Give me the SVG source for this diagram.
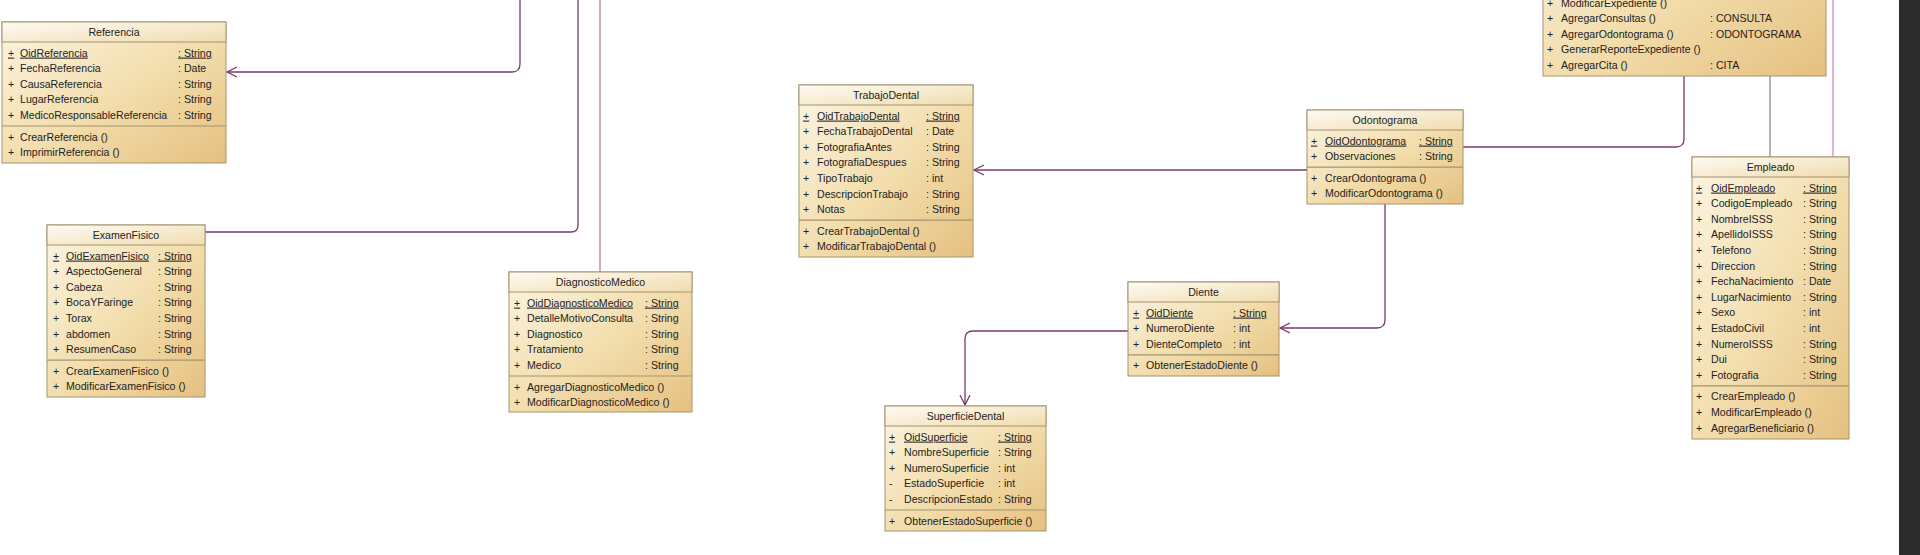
<svg xmlns="http://www.w3.org/2000/svg" width="1920" height="555" viewBox="0 0 1920 555">
<defs>
<linearGradient id="body" x1="0" y1="0" x2="1" y2="1">
<stop offset="0" stop-color="#fcf5e3"/>
<stop offset="0.55" stop-color="#f2dcaa"/>
<stop offset="1" stop-color="#e5c080"/>
</linearGradient>
<linearGradient id="head" x1="0" y1="0" x2="1" y2="1">
<stop offset="0" stop-color="#fefbf4"/>
<stop offset="1" stop-color="#f0dcae"/>
</linearGradient>
<marker id="open" markerUnits="userSpaceOnUse" markerWidth="12" markerHeight="12" refX="10" refY="5" orient="auto" viewBox="0 0 12 10">
<path d="M0,0 L10,5 L0,10" fill="none" stroke="#7a3a6c" stroke-width="1.3"/>
</marker>
<style>
.box{fill:url(#body);stroke:#a4946e;stroke-width:1}
.hdr{fill:url(#head);stroke:#a4946e;stroke-width:1}
.sep{stroke:#a4946e;stroke-width:1.2}
text{font-family:"Liberation Sans",Arial,sans-serif;font-size:10.6px;fill:#222}
.t{text-anchor:middle}
.u{text-decoration:underline}
.c{fill:none;stroke:#7a3a6c;stroke-width:1.3}
.cl{fill:none;stroke:#b693ad;stroke-width:1.5}
.cg{fill:none;stroke:#8e8a8c;stroke-width:1.3}
.cp{fill:none;stroke:#d69ccc;stroke-width:1.5}
</style>
</defs>
<rect width="1920" height="555" fill="#ffffff"/>
<rect x="1899" y="0" width="21" height="555" fill="#2b2b2b"/>

<g id="connectors">
<path class="c" d="M520,0 V64 Q520,72 512,72 H227" marker-end="url(#open)"/>
<path class="c" d="M578,0 V225 Q578,232 571,232 H205"/>
<path class="cl" d="M600,0 V272"/>
<path class="c" d="M1307,170 H974" marker-end="url(#open)"/>
<path class="c" d="M1463,147 H1676 Q1684,147 1684,139 V76"/>
<path class="c" d="M1385,204 V320 Q1385,328 1377,328 H1280" marker-end="url(#open)"/>
<path class="c" d="M1128,331 H973 Q965,331 965,339 V405" marker-end="url(#open)"/>
<path class="cg" d="M1770,76 V157"/>
<path class="cp" d="M1833,0 V157"/>
</g>

<g id="Referencia">
<rect class="box" x="2" y="22" width="224" height="141"/>
<rect class="hdr" x="2" y="22" width="224" height="20"/>
<line class="sep" x1="2" y1="126" x2="226" y2="126"/>
<text class="t" x="114" y="35.8">Referencia</text>
<text class="u" x="8" y="56.6">+</text><text class="u" x="20" y="56.6">OidReferencia</text><text class="u" x="178" y="56.6">: String</text>
<text x="8" y="72.2">+</text><text x="20" y="72.2">FechaReferencia</text><text x="178" y="72.2">: Date</text>
<text x="8" y="87.8">+</text><text x="20" y="87.8">CausaReferencia</text><text x="178" y="87.8">: String</text>
<text x="8" y="103.4">+</text><text x="20" y="103.4">LugarReferencia</text><text x="178" y="103.4">: String</text>
<text x="8" y="119">+</text><text x="20" y="119">MedicoResponsableReferencia</text><text x="178" y="119">: String</text>
<text x="8" y="140.6">+</text><text x="20" y="140.6">CrearReferencia ()</text>
<text x="8" y="156.2">+</text><text x="20" y="156.2">ImprimirReferencia ()</text>
</g>

<g id="ExamenFisico">
<rect class="box" x="47" y="225" width="158" height="172"/>
<rect class="hdr" x="47" y="225" width="158" height="20"/>
<line class="sep" x1="47" y1="360.2" x2="205" y2="360.2"/>
<text class="t" x="126" y="238.8">ExamenFisico</text>
<text class="u" x="53" y="259.6">+</text><text class="u" x="66" y="259.6">OidExamenFisico</text><text class="u" x="158" y="259.6">: String</text>
<text x="53" y="275.2">+</text><text x="66" y="275.2">AspectoGeneral</text><text x="158" y="275.2">: String</text>
<text x="53" y="290.8">+</text><text x="66" y="290.8">Cabeza</text><text x="158" y="290.8">: String</text>
<text x="53" y="306.4">+</text><text x="66" y="306.4">BocaYFaringe</text><text x="158" y="306.4">: String</text>
<text x="53" y="322">+</text><text x="66" y="322">Torax</text><text x="158" y="322">: String</text>
<text x="53" y="337.6">+</text><text x="66" y="337.6">abdomen</text><text x="158" y="337.6">: String</text>
<text x="53" y="353.2">+</text><text x="66" y="353.2">ResumenCaso</text><text x="158" y="353.2">: String</text>
<text x="53" y="374.8">+</text><text x="66" y="374.8">CrearExamenFisico ()</text>
<text x="53" y="390.4">+</text><text x="66" y="390.4">ModificarExamenFisico ()</text>
</g>

<g id="DiagnosticoMedico">
<rect class="box" x="509" y="272" width="183" height="140"/>
<rect class="hdr" x="509" y="272" width="183" height="20"/>
<line class="sep" x1="509" y1="376" x2="692" y2="376"/>
<text class="t" x="600.5" y="285.8">DiagnosticoMedico</text>
<text class="u" x="514" y="306.6">+</text><text class="u" x="527" y="306.6">OidDiagnosticoMedico</text><text class="u" x="645" y="306.6">: String</text>
<text x="514" y="322.2">+</text><text x="527" y="322.2">DetalleMotivoConsulta</text><text x="645" y="322.2">: String</text>
<text x="514" y="337.8">+</text><text x="527" y="337.8">Diagnostico</text><text x="645" y="337.8">: String</text>
<text x="514" y="353.4">+</text><text x="527" y="353.4">Tratamiento</text><text x="645" y="353.4">: String</text>
<text x="514" y="369">+</text><text x="527" y="369">Medico</text><text x="645" y="369">: String</text>
<text x="514" y="390.6">+</text><text x="527" y="390.6">AgregarDiagnosticoMedico ()</text>
<text x="514" y="406.2">+</text><text x="527" y="406.2">ModificarDiagnosticoMedico ()</text>
</g>

<g id="TrabajoDental">
<rect class="box" x="799" y="85" width="174" height="172"/>
<rect class="hdr" x="799" y="85" width="174" height="20"/>
<line class="sep" x1="799" y1="220.2" x2="973" y2="220.2"/>
<text class="t" x="886" y="98.8">TrabajoDental</text>
<text class="u" x="803" y="119.6">+</text><text class="u" x="817" y="119.6">OidTrabajoDental</text><text class="u" x="926" y="119.6">: String</text>
<text x="803" y="135.2">+</text><text x="817" y="135.2">FechaTrabajoDental</text><text x="926" y="135.2">: Date</text>
<text x="803" y="150.8">+</text><text x="817" y="150.8">FotografiaAntes</text><text x="926" y="150.8">: String</text>
<text x="803" y="166.4">+</text><text x="817" y="166.4">FotografiaDespues</text><text x="926" y="166.4">: String</text>
<text x="803" y="182">+</text><text x="817" y="182">TipoTrabajo</text><text x="926" y="182">: int</text>
<text x="803" y="197.6">+</text><text x="817" y="197.6">DescripcionTrabajo</text><text x="926" y="197.6">: String</text>
<text x="803" y="213.2">+</text><text x="817" y="213.2">Notas</text><text x="926" y="213.2">: String</text>
<text x="803" y="234.8">+</text><text x="817" y="234.8">CrearTrabajoDental ()</text>
<text x="803" y="250.4">+</text><text x="817" y="250.4">ModificarTrabajoDental ()</text>
</g>

<g id="Odontograma">
<rect class="box" x="1307" y="110" width="156" height="94"/>
<rect class="hdr" x="1307" y="110" width="156" height="20"/>
<line class="sep" x1="1307" y1="167.2" x2="1463" y2="167.2"/>
<text class="t" x="1385" y="123.8">Odontograma</text>
<text class="u" x="1311" y="144.6">+</text><text class="u" x="1325" y="144.6">OidOdontograma</text><text class="u" x="1419" y="144.6">: String</text>
<text x="1311" y="160.2">+</text><text x="1325" y="160.2">Observaciones</text><text x="1419" y="160.2">: String</text>
<text x="1311" y="181.8">+</text><text x="1325" y="181.8">CrearOdontograma ()</text>
<text x="1311" y="197.4">+</text><text x="1325" y="197.4">ModificarOdontograma ()</text>
</g>

<g id="Diente">
<rect class="box" x="1128" y="282" width="151" height="94"/>
<rect class="hdr" x="1128" y="282" width="151" height="20"/>
<line class="sep" x1="1128" y1="354.8" x2="1279" y2="354.8"/>
<text class="t" x="1203.5" y="295.8">Diente</text>
<text class="u" x="1133" y="316.6">+</text><text class="u" x="1146" y="316.6">OidDiente</text><text class="u" x="1233" y="316.6">: String</text>
<text x="1133" y="332.2">+</text><text x="1146" y="332.2">NumeroDiente</text><text x="1233" y="332.2">: int</text>
<text x="1133" y="347.8">+</text><text x="1146" y="347.8">DienteCompleto</text><text x="1233" y="347.8">: int</text>
<text x="1133" y="369.4">+</text><text x="1146" y="369.4">ObtenerEstadoDiente ()</text>
</g>

<g id="SuperficieDental">
<rect class="box" x="885" y="406" width="161" height="125"/>
<rect class="hdr" x="885" y="406" width="161" height="20"/>
<line class="sep" x1="885" y1="510" x2="1046" y2="510"/>
<text class="t" x="965.5" y="419.8">SuperficieDental</text>
<text class="u" x="889" y="440.6">+</text><text class="u" x="904" y="440.6">OidSuperficie</text><text class="u" x="998" y="440.6">: String</text>
<text x="889" y="456.2">+</text><text x="904" y="456.2">NombreSuperficie</text><text x="998" y="456.2">: String</text>
<text x="889" y="471.8">+</text><text x="904" y="471.8">NumeroSuperficie</text><text x="998" y="471.8">: int</text>
<text x="889" y="487.4">-</text><text x="904" y="487.4">EstadoSuperficie</text><text x="998" y="487.4">: int</text>
<text x="889" y="503">-</text><text x="904" y="503">DescripcionEstado</text><text x="998" y="503">: String</text>
<text x="889" y="524.6">+</text><text x="904" y="524.6">ObtenerEstadoSuperficie ()</text>
</g>

<g id="Expediente">
<rect class="box" x="1543" y="-120" width="283" height="196"/>
<text x="1547" y="6.6">+</text><text x="1561" y="6.6">ModificarExpediente ()</text>
<text x="1547" y="22.2">+</text><text x="1561" y="22.2">AgregarConsultas ()</text><text x="1710" y="22.2">: CONSULTA</text>
<text x="1547" y="37.8">+</text><text x="1561" y="37.8">AgregarOdontograma ()</text><text x="1710" y="37.8">: ODONTOGRAMA</text>
<text x="1547" y="53.4">+</text><text x="1561" y="53.4">GenerarReporteExpediente ()</text>
<text x="1547" y="69">+</text><text x="1561" y="69">AgregarCita ()</text><text x="1710" y="69">: CITA</text>
</g>

<g id="Empleado">
<rect class="box" x="1692" y="157" width="157" height="282"/>
<rect class="hdr" x="1692" y="157" width="157" height="20"/>
<line class="sep" x1="1692" y1="385.8" x2="1849" y2="385.8"/>
<text class="t" x="1770.5" y="170.8">Empleado</text>
<text class="u" x="1696" y="191.6">+</text><text class="u" x="1711" y="191.6">OidEmpleado</text><text class="u" x="1803" y="191.6">: String</text>
<text x="1696" y="207.2">+</text><text x="1711" y="207.2">CodigoEmpleado</text><text x="1803" y="207.2">: String</text>
<text x="1696" y="222.8">+</text><text x="1711" y="222.8">NombreISSS</text><text x="1803" y="222.8">: String</text>
<text x="1696" y="238.4">+</text><text x="1711" y="238.4">ApellidoISSS</text><text x="1803" y="238.4">: String</text>
<text x="1696" y="254">+</text><text x="1711" y="254">Telefono</text><text x="1803" y="254">: String</text>
<text x="1696" y="269.6">+</text><text x="1711" y="269.6">Direccion</text><text x="1803" y="269.6">: String</text>
<text x="1696" y="285.2">+</text><text x="1711" y="285.2">FechaNacimiento</text><text x="1803" y="285.2">: Date</text>
<text x="1696" y="300.8">+</text><text x="1711" y="300.8">LugarNacimiento</text><text x="1803" y="300.8">: String</text>
<text x="1696" y="316.4">+</text><text x="1711" y="316.4">Sexo</text><text x="1803" y="316.4">: int</text>
<text x="1696" y="332">+</text><text x="1711" y="332">EstadoCivil</text><text x="1803" y="332">: int</text>
<text x="1696" y="347.6">+</text><text x="1711" y="347.6">NumeroISSS</text><text x="1803" y="347.6">: String</text>
<text x="1696" y="363.2">+</text><text x="1711" y="363.2">Dui</text><text x="1803" y="363.2">: String</text>
<text x="1696" y="378.8">+</text><text x="1711" y="378.8">Fotografia</text><text x="1803" y="378.8">: String</text>
<text x="1696" y="400.4">+</text><text x="1711" y="400.4">CrearEmpleado ()</text>
<text x="1696" y="416">+</text><text x="1711" y="416">ModificarEmpleado ()</text>
<text x="1696" y="431.6">+</text><text x="1711" y="431.6">AgregarBeneficiario ()</text>
</g>
</svg>
